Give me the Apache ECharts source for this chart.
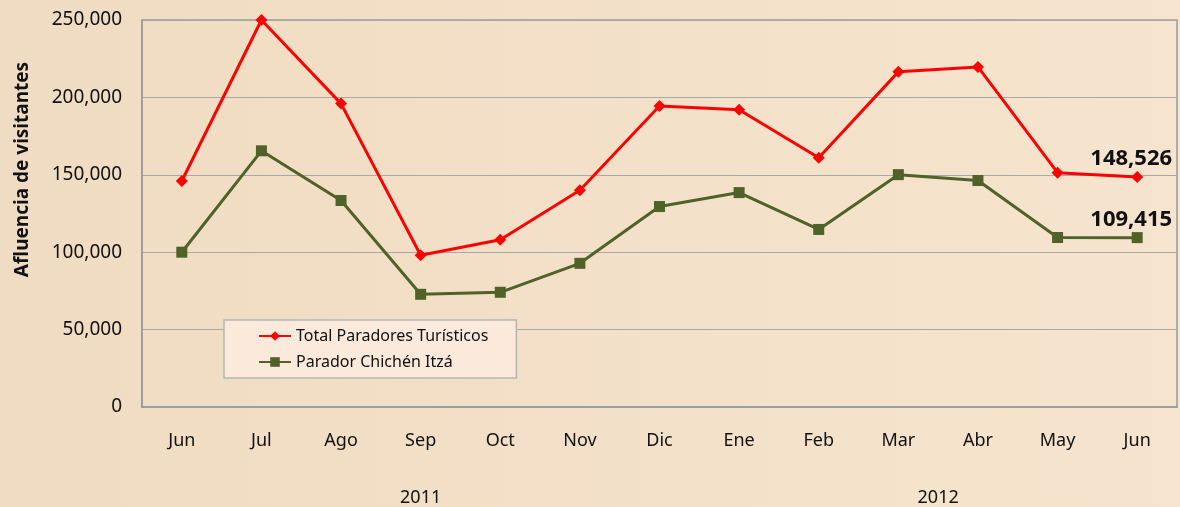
<!DOCTYPE html>
<html>
<head>
<meta charset="utf-8">
<script src="https://cdn.jsdelivr.net/npm/echarts@6/dist/echarts.min.js"></script>
<style>
  html, body { margin: 0; padding: 0; }
  #chart { width: 1180px; height: 507px; }
</style>
</head>
<body>
<div id="chart"></div>
<script>
// meses jun 2011 - jun 2012
const months = ['Jun', 'Jul', 'Ago', 'Sep', 'Oct', 'Nov', 'Dic', 'Ene', 'Feb', 'Mar', 'Abr', 'May', 'Jun'];
const totalParadores = [146000, 250000, 196000, 98000, 108000, 140000, 194500, 192000, 161000, 216500, 219700, 151400, 148526];
const chichenItza = [100000, 165500, 133400, 72800, 74100, 92800, 129500, 138500, 114700, 150100, 146300, 109500, 109415];
const yearLabels = [{ pos: 3, text: '2011' }, { pos: 9.5, text: '2012' }];

const font = 'Noto Sans';
const chart = echarts.init(document.getElementById('chart'));

function lastLabel(data) {
  return function (p) {
    return p.dataIndex === data.length - 1 ? data[p.dataIndex].toLocaleString('en-US') : '';
  };
}

chart.setOption({
  backgroundColor: {
    type: 'linear', x: 0, y: 0, x2: 1, y2: 0,
    colorStops: [{ offset: 0, color: '#f0dcc2' }, { offset: 1, color: '#f7e4ce' }]
  },
  textStyle: { fontFamily: font },
  grid: { left: 142, top: 20, right: 3, bottom: 99, show: true, borderColor: '#9a9a9a', borderWidth: 1.5 },
  legend: {
    orient: 'vertical',
    left: 224, top: 320,
    padding: [8, 28, 8, 34],
    itemGap: 10,
    itemWidth: 32, itemHeight: 12,
    backgroundColor: '#fbe9dc',
    borderColor: '#b5b5b5', borderWidth: 1.5,
    textStyle: { fontFamily: font, fontSize: 16, color: '#111' }
  },
  xAxis: [{
    type: 'category',
    data: months,
    axisLine: { lineStyle: { color: '#9a9a9a', width: 1.5 } },
    axisTick: { show: false },
    axisLabel: { color: '#111', fontSize: 18, margin: 25 }
  }, {
    type: 'value',
    position: 'bottom',
    min: -0.5, max: 12.5, interval: 0.5,
    axisLine: { show: false },
    axisTick: { show: false },
    splitLine: { show: false },
    axisLabel: {
      color: '#111', fontSize: 18, margin: 82,
      showMinLabel: true, showMaxLabel: true,
      formatter: function (v) {
        const y = yearLabels.find(function (d) { return Math.abs(d.pos - v) < 0.01; });
        return y ? y.text : '';
      }
    }
  }],
  yAxis: {
    type: 'value',
    min: 0, max: 250000, interval: 50000,
    name: 'Afluencia de visitantes',
    nameLocation: 'middle',
    nameGap: 110,
    nameTextStyle: { fontSize: 19, fontWeight: 'bold', color: '#111', padding: [0, 0, 0, 88] },
    axisLine: { show: true, onZero: false, lineStyle: { color: '#9a9a9a', width: 1.5 } },
    axisTick: { show: false },
    splitLine: { lineStyle: { color: '#a8a8a8', width: 1.2 } },
    axisLabel: {
      color: '#111', fontSize: 19, margin: 20,
      formatter: function (v) { return v.toLocaleString('en-US'); }
    }
  },
  series: [{
    name: 'Total Paradores Turísticos',
    type: 'line',
    data: totalParadores,
    color: '#ff0000',
    symbol: 'diamond', symbolSize: 12,
    lineStyle: { width: 3 },
    label: { show: true, position: 'top', distance: 1, offset: [-6, 0], formatter: lastLabel(totalParadores), fontSize: 22, fontWeight: 'bold', color: '#111' },
    z: 3
  }, {
    name: 'Parador Chichén Itzá',
    type: 'line',
    data: chichenItza,
    color: '#4f6228',
    symbol: 'rect', symbolSize: 11,
    lineStyle: { width: 3 },
    label: { show: true, position: 'top', distance: 1, offset: [-6, 0], formatter: lastLabel(chichenItza), fontSize: 22, fontWeight: 'bold', color: '#111' },
    z: 2
  }]
});
</script>
</body>
</html>
